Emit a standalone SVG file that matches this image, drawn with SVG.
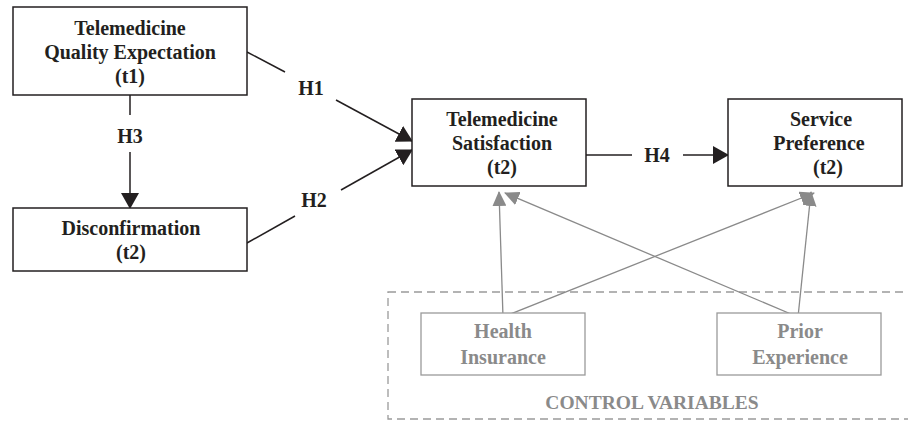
<svg xmlns="http://www.w3.org/2000/svg" width="908" height="421" viewBox="0 0 908 421">
<defs>
<marker id="ah" markerWidth="16" markerHeight="18" refX="15" refY="9" orient="auto" markerUnits="userSpaceOnUse"><path d="M0,0 L16,9 L0,18 Z" fill="#231f20"/></marker>
<marker id="ag" markerWidth="15" markerHeight="14" refX="14" refY="7" orient="auto" markerUnits="userSpaceOnUse"><path d="M0,0 L15,7 L0,14 Z" fill="#8a8a8a"/></marker>
<style>
.box{fill:#fff;stroke:#231f20;stroke-width:1.5}
.gbox{fill:#fff;stroke:#9a9a9a;stroke-width:1.3}
.t{font-family:'Liberation Serif','DejaVu Serif',serif;font-weight:bold;font-size:20px;fill:#231f20;text-anchor:middle}
.g{font-family:'Liberation Serif','DejaVu Serif',serif;font-weight:bold;font-size:20px;fill:#8a8a8a;text-anchor:middle}
.c{stroke:#231f20;stroke-width:1.5;fill:none}
.cg{stroke:#8a8a8a;stroke-width:1.3;fill:none}
</style>
</defs>
<rect x="388" y="292" width="530" height="127" fill="none" stroke="#9a9a9a" stroke-width="1.3" stroke-dasharray="8,5"/>
<g id="connectors">
<line class="c" x1="130" y1="95" x2="130" y2="115"/>
<line class="c" x1="130" y1="152" x2="130" y2="208" marker-end="url(#ah)"/>
<line class="c" x1="247" y1="52" x2="285" y2="72"/>
<line class="c" x1="336" y1="100" x2="412" y2="141" marker-end="url(#ah)"/>
<line class="c" x1="247" y1="243" x2="295" y2="216"/>
<line class="c" x1="341" y1="190" x2="412" y2="150" marker-end="url(#ah)"/>
<line class="c" x1="586" y1="155" x2="632" y2="155"/>
<line class="c" x1="683" y1="155" x2="728" y2="155" marker-end="url(#ah)"/>
<line class="cg" x1="503" y1="317" x2="499" y2="192" marker-end="url(#ag)"/>
<line class="cg" x1="503" y1="317" x2="814" y2="193" marker-end="url(#ag)"/>
<line class="cg" x1="798" y1="317" x2="505" y2="193" marker-end="url(#ag)"/>
<line class="cg" x1="798" y1="317" x2="811" y2="192" marker-end="url(#ag)"/>
</g>
<g id="labels">
<text class="t" x="311" y="95">H1</text>
<text class="t" x="314" y="207">H2</text>
<text class="t" x="130" y="143">H3</text>
<text class="t" x="657" y="162">H4</text>
</g>
<g id="tqe">
<rect class="box" x="13" y="7" width="234" height="88"/>
<text class="t" x="130" y="35">Telemedicine</text>
<text class="t" x="130" y="59">Quality Expectation</text>
<text class="t" x="130" y="83">(t1)</text>
</g>
<g id="disconfirmation">
<rect class="box" x="13" y="208" width="234" height="63"/>
<text class="t" x="131" y="235">Disconfirmation</text>
<text class="t" x="131" y="259">(t2)</text>
</g>
<g id="satisfaction">
<rect class="box" x="412" y="99" width="174" height="87"/>
<text class="t" x="502" y="126">Telemedicine</text>
<text class="t" x="502" y="150">Satisfaction</text>
<text class="t" x="502" y="174">(t2)</text>
</g>
<g id="preference">
<rect class="box" x="728" y="99" width="174" height="87"/>
<text class="t" x="821" y="126">Service</text>
<text class="t" x="819" y="150">Preference</text>
<text class="t" x="828" y="174">(t2)</text>
</g>
<g id="health">
<rect class="gbox" x="421" y="313" width="164" height="62"/>
<text class="g" x="503" y="338">Health</text>
<text class="g" x="503" y="364">Insurance</text>
</g>
<g id="prior">
<rect class="gbox" x="717" y="313" width="164" height="62"/>
<text class="g" x="800" y="338">Prior</text>
<text class="g" x="800" y="364">Experience</text>
</g>
<g id="control">
<text class="g" x="652" y="409" style="font-size:19.5px">CONTROL VARIABLES</text>
</g>
</svg>
